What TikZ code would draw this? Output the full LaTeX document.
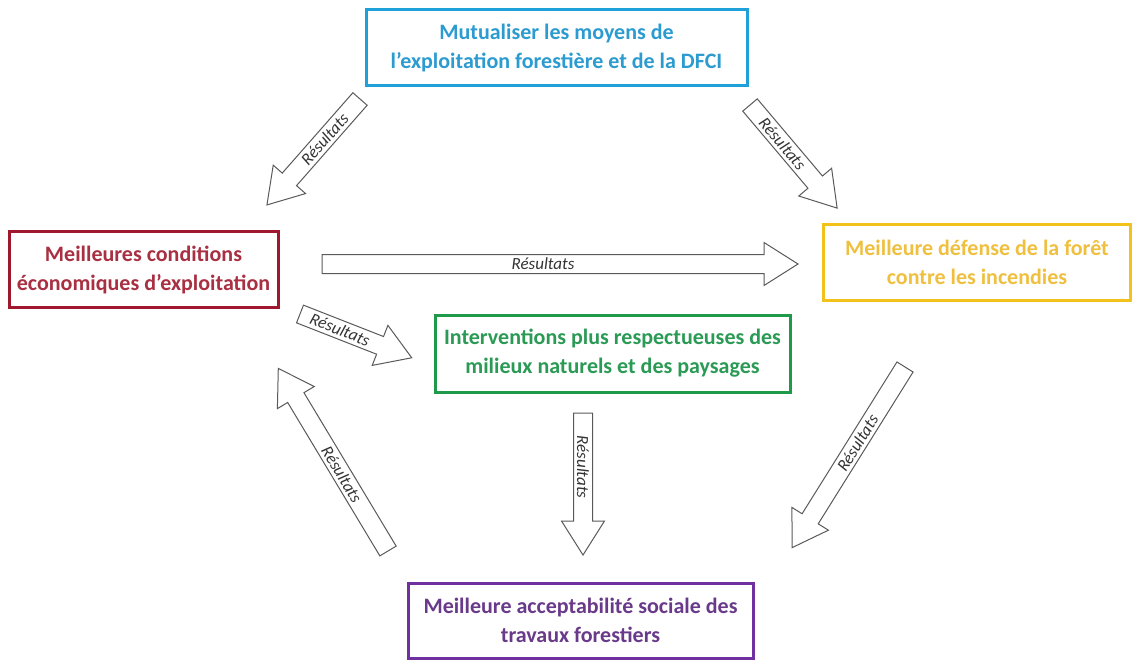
\documentclass[tikz,border=0pt]{standalone}
\usepackage{fontspec}
\setmainfont{Carlito}
\definecolor{cblue}{HTML}{1EA0D8}
\definecolor{cbluetxt}{HTML}{2C9BD0}
\definecolor{cred}{HTML}{A0182E}
\definecolor{credtxt}{HTML}{A83042}
\definecolor{cyel}{HTML}{F2C21B}
\definecolor{cyeltxt}{HTML}{EFC040}
\definecolor{cgreen}{HTML}{1F9A4B}
\definecolor{cgreentxt}{HTML}{2A9A55}
\definecolor{cpurp}{HTML}{7030A0}
\definecolor{cpurptxt}{HTML}{6A3A8A}
\definecolor{arrgray}{HTML}{5A5A5A}
\tikzset{
  box/.style={draw, line width=3pt, fill=white, align=center, inner sep=0pt,
    font=\fontsize{22}{29}\selectfont\bfseries},
  arrline/.style={draw=arrgray, line width=1pt, fill=white, line join=miter},
  restxt/.style={transform shape, inner sep=0pt, text=black!80,
    font=\fontsize{17}{17}\selectfont\itshape},
  pics/barrow/.style 2 args={code={
    \draw[arrline] (0,-9.5) -- ({#1-34},-9.5) -- ({#1-34},-21.5) -- (#1,0)
      -- ({#1-34},21.5) -- ({#1-34},9.5) -- (0,9.5) -- cycle;
    \node[restxt, rotate=#2] (-lbl) at ({(#1-34)/2},0) {Résultats};
  }}
}
\begin{document}
\begin{tikzpicture}[x=1pt,y=-1pt]
\useasboundingbox[fill=white] (0,0) rectangle (1134,660);
% boxes
\node[box, draw=cblue, text=cbluetxt, minimum width=381pt, minimum height=76pt] (top) at (556.5,48)
  {Mutualiser les moyens de\\l’exploitation forestière et de la DFCI};
\node[box, draw=cred, text=credtxt, minimum width=269pt, minimum height=75pt] (left) at (143.5,269.5)
  {Meilleures conditions\\économiques d’exploitation};
\node[box, draw=cyel, text=cyeltxt, minimum width=307pt, minimum height=75pt] (right) at (977,262.5)
  {Meilleure défense de la forêt\\contre les incendies};
\node[box, draw=cgreen, text=cgreentxt, minimum width=355pt, minimum height=77pt] (mid) at (612.5,353.5)
  {Interventions plus respectueuses des\\milieux naturels et des paysages};
\node[box, draw=cpurp, text=cpurptxt, minimum width=345pt, minimum height=75pt] (bot) at (580.5,620.5)
  {Meilleure acceptabilité sociale des\\travaux forestiers};
% block arrows
\pic (a1) [rotate=228.7] at (360,99) {barrow={141}{180}};
\pic (a2) [rotate=-49.8] at (750,105) {barrow={135}{0}};
\pic (a3) at (322,264) {barrow={476}{0}};
\pic (a4) [rotate=-21.4] at (300,314) {barrow={120}{0}};
\pic (a5) [rotate=121] at (388,551) {barrow={213}{180}};
\pic (a6) [rotate=-90] at (583,413) {barrow={142}{0}};
\pic (a7) [rotate=238] at (905,367) {barrow={213}{180}};
\end{tikzpicture}
\end{document}
